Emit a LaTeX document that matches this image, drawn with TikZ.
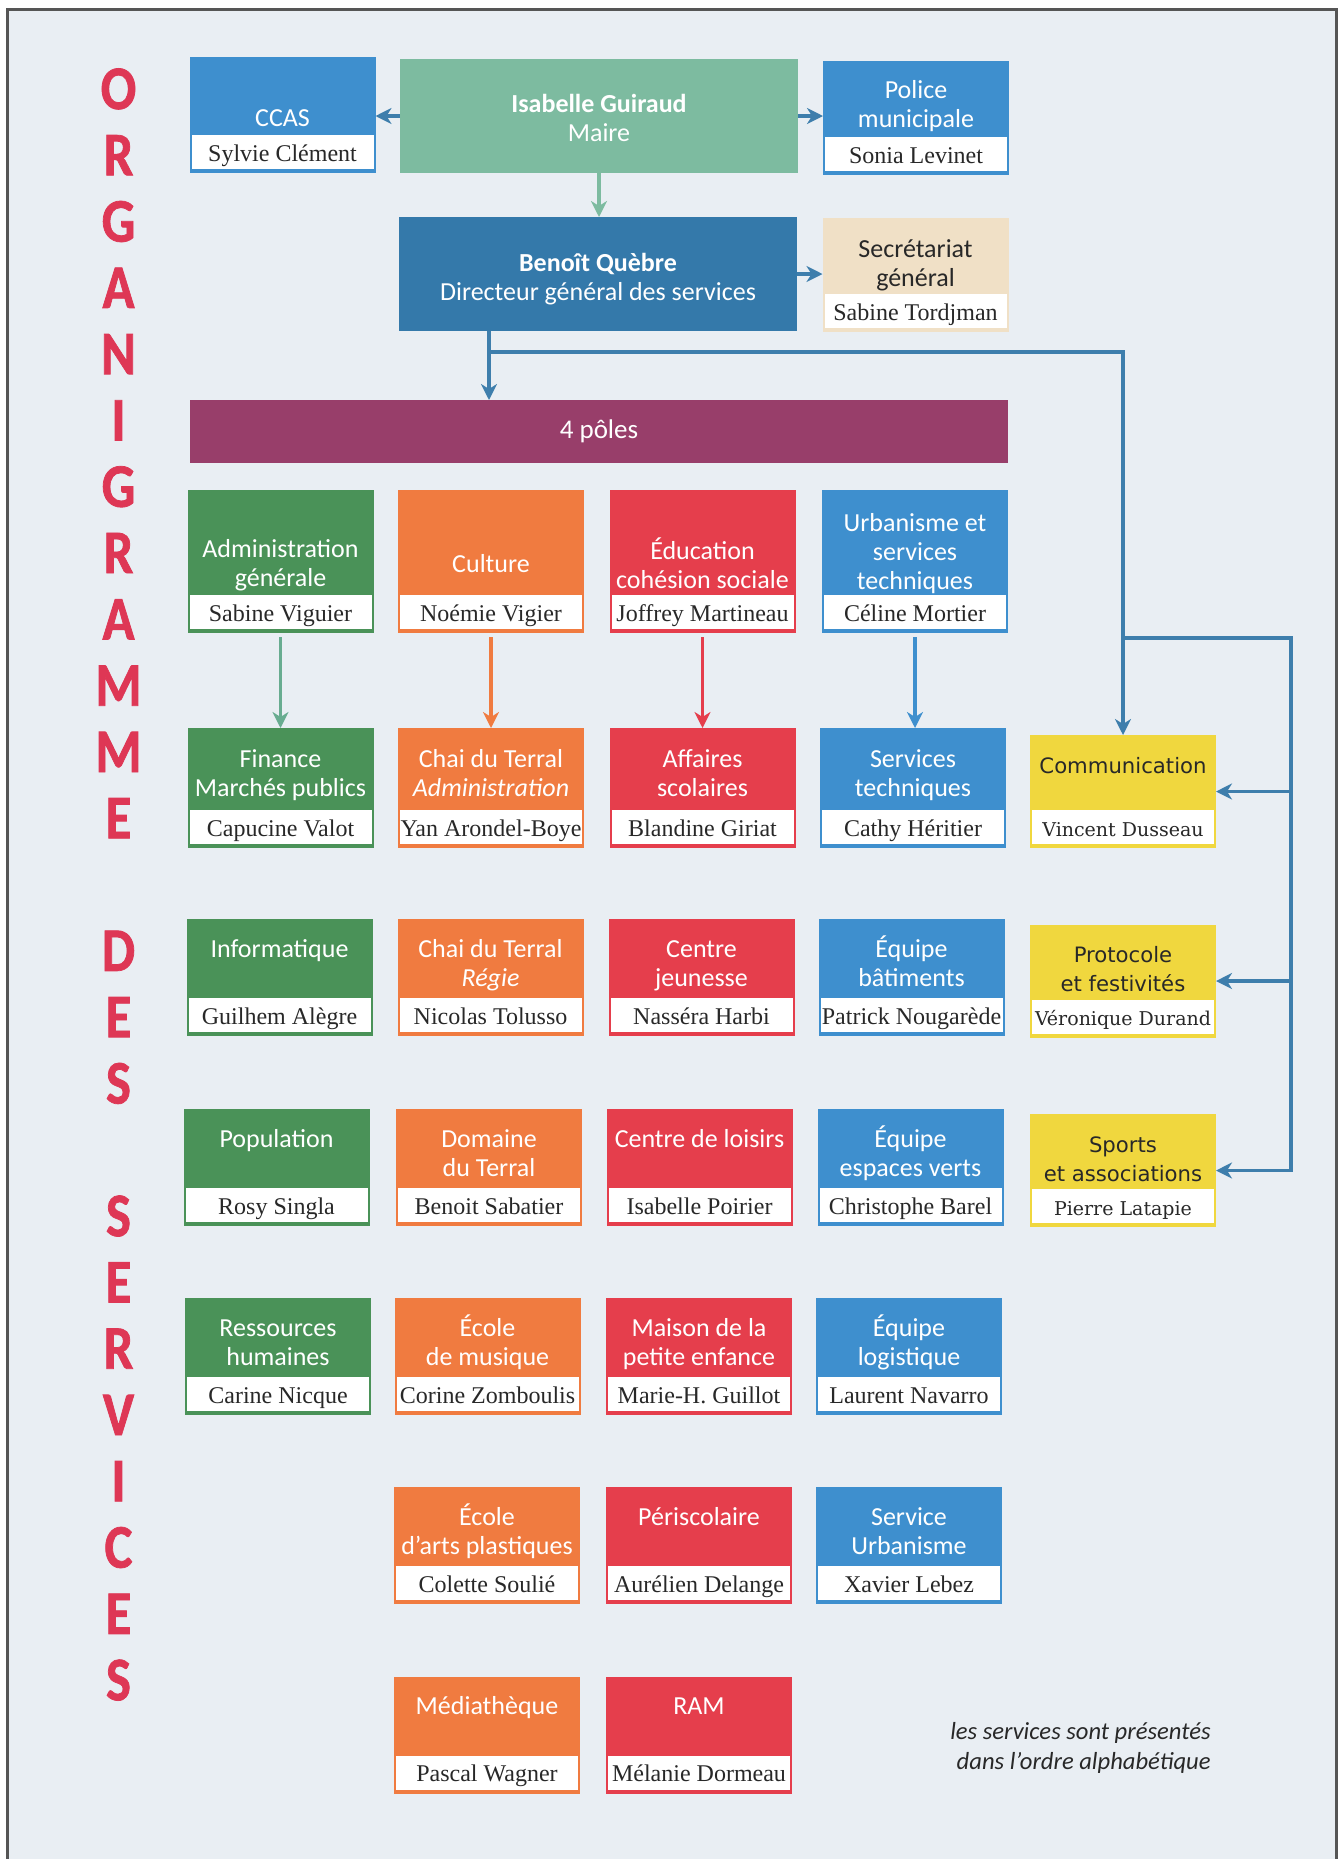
\documentclass[tikz,border=0pt]{standalone}
\usepackage{fontspec}
\setmainfont{Liberation Serif}
\setsansfont{Carlito}
\newfontfamily\yellowfont{DejaVu Sans}
\newfontfamily\yellowname{DejaVu Serif}
\newfontfamily\bigletters[FakeStretch=0.85,FakeBold=1.2]{Carlito}
\usetikzlibrary{arrows.meta,positioning}

\definecolor{bgpaper}{RGB}{233,238,243}
\definecolor{frame}{RGB}{85,85,85}
\definecolor{bleu}{RGB}{62,143,206}
\definecolor{bleufonce}{RGB}{52,121,170}
\definecolor{maire}{RGB}{125,187,160}
\definecolor{beige}{RGB}{240,224,198}
\definecolor{prune}{RGB}{152,62,106}
\definecolor{vert}{RGB}{74,146,88}
\definecolor{orangec}{RGB}{240,123,64}
\definecolor{rouge}{RGB}{229,62,76}
\definecolor{jaune}{RGB}{240,215,62}
\definecolor{trait}{RGB}{62,126,172}
\definecolor{flecheverte}{RGB}{104,172,144}
\definecolor{lettre}{RGB}{222,55,85}
\definecolor{texte}{RGB}{40,40,40}

% fixed height of the first line of a box title
\newcommand\hstrut{\rule{0pt}{12pt}}

\begin{document}
\begin{tikzpicture}[x=0.5pt, y=-0.5pt,
  box/.style={inner sep=0pt, outer sep=0pt, minimum width=93pt},
  hd/.style={font=\sffamily\fontsize{13}{14.5}\selectfont, text=white, align=center, inner sep=0pt, anchor=north},
  who/.style={fill=white, minimum width=91pt, minimum height=17pt, inner sep=0pt, outer sep=0pt, text height=9.4pt, text depth=0pt, font=\rmfamily\fontsize{12}{12}\selectfont, text=texte},
  yhd/.style={hd, font=\yellowfont\fontsize{10.6}{14.5}\selectfont, text=texte},
  ywho/.style={who, font=\yellowname\fontsize{9.5}{9.5}\selectfont, text height=9pt, text depth=0pt},
  conn/.style={draw=trait, line width=1.6pt},
  arr/.style={-{Stealth[length=8pt, width=8pt, inset=2.5pt]}},
  bigletter/.style={font=\bigletters\bfseries\fontsize{31}{31}\selectfont, text=lettre, inner sep=0pt},
  note/.style={font=\sffamily\itshape\fontsize{12.3}{14.8}\selectfont, text=texte, align=right, inner sep=0pt}
]
\useasboundingbox (0,0) rectangle (1343,1859);

%page
\fill[white] (0,0) rectangle (1343,1859);
\fill[bgpaper] (7,9) rectangle (1336,1859);
\draw[frame, line width=1.5pt] (7,1859) -- (7,9) -- (1336,9) -- (1336,1859);

%title down the left side
\foreach \l/\k in {O/0,R/1,G/2,A/3,N/4,I/5,G/6,R/7,A/8,M/9,M/10,E/11,D/13,E/14,S/15,S/17,E/18,R/19,V/20,I/21,C/22,E/23,S/24}
\node[bigletter] (L\k) at (118.5,{88.9+66.3*\k}) {\l};

%top
\node[box, fill=maire, minimum width=199pt, minimum height=57pt] (maire) at (599,116) {};
\node[hd] (maire-t) at ([yshift=-14.5pt]maire.north) {\hstrut\textbf{Isabelle Guiraud}\\Maire};

\node[box, fill=bleu, minimum height=58pt] (ccas) at (282.5,115) {};
\node[who, above=2pt of ccas.south] (ccas-n) {Sylvie Clément};
\node[hd] (ccas-t) at ([yshift=-22.5pt]ccas.north) {\hstrut CCAS};

\node[box, fill=bleu, minimum height=57pt] (police) at (916,118) {};
\node[who, above=2pt of police.south] (police-n) {Sonia Levinet};
\node[hd] (police-t) at ([yshift=-6.5pt]police.north) {\hstrut Police\\municipale};

\node[box, fill=bleufonce, minimum width=199pt, minimum height=57pt] (dgs) at (598,274) {};
\node[hd] (dgs-t) at ([yshift=-15pt]dgs.north) {\hstrut\textbf{Benoît Quèbre}\\Directeur général des services};

\node[box, fill=beige, minimum height=57pt] (secr) at (915.5,275) {};
\node[who, above=2pt of secr.south] (secr-n) {Sabine Tordjman};
\node[hd, text=texte] (secr-t) at ([yshift=-7.5pt]secr.north) {\hstrut Secrétariat\\général};

\node[box, fill=prune, minimum width=409pt, minimum height=31.5pt, font=\sffamily\fontsize{13.5}{14}\selectfont, text=white] (poles) at (599,431.5) {4 pôles};

%the four poles
\node[box, fill=vert, minimum height=71.5pt] (adm) at (280.5,561.5) {};
\node[who, above=2pt of adm.south] (adm-n) {Sabine Viguier};
\node[hd] (adm-t) at ([yshift=-21.5pt]adm.north) {\hstrut Administration\\générale};

\node[box, fill=orangec, minimum height=71.5pt] (cul) at (491,561.5) {};
\node[who, above=2pt of cul.south] (cul-n) {Noémie Vigier};
\node[hd] (cul-t) at ([yshift=-29pt]cul.north) {\hstrut Culture};

\node[box, fill=rouge, minimum height=71.5pt] (edu) at (702.5,561.5) {};
\node[who, above=2pt of edu.south] (edu-n) {Joffrey Martineau};
\node[hd] (edu-t) at ([yshift=-22.5pt]edu.north) {\hstrut Éducation\\cohésion sociale};

\node[box, fill=bleu, minimum height=71.5pt] (urb) at (915,561.5) {};
\node[who, above=2pt of urb.south] (urb-n) {Céline Mortier};
\node[hd] (urb-t) at ([yshift=-8.5pt]urb.north) {\hstrut Urbanisme et\\services\\techniques};

%services
\foreach \id/\x/\col/\hdr/\pers in {
  fin/280.5/vert/{Finance\\Marchés publics}/Capucine Valot,
  chaiadm/491/orangec/{Chai du Terral\\\textit{Administration}}/Yan Arondel-Boye,
  aff/702.5/rouge/{Affaires\\scolaires}/Blandine Giriat,
  st/913/bleu/{Services\\techniques}/Cathy Héritier}
{
  \node[box, fill=\col, minimum height=60pt] (\id) at (\x,788) {};
  \node[who, above=2pt of \id.south] (\id-n) {\pers};
  \node[hd] (\id-t) at ([yshift=-7.5pt]\id.north) {\hstrut\hdr};
}

\foreach \id/\x/\y/\col/\hdr/\pers in {
  info/279.5/977.5/vert/Informatique/Guilhem Alègre,
  regie/490.5/977.5/orangec/{Chai du Terral\\\textit{Régie}}/Nicolas Tolusso,
  cj/701.5/977.5/rouge/{Centre\\jeunesse}/Nasséra Harbi,
  bat/911.5/977.5/bleu/{Équipe\\bâtiments}/Patrick Nougarède,
  pop/276.5/1167.5/vert/Population/Rosy Singla,
  dom/489/1167.5/orangec/{Domaine\\du Terral}/Benoit Sabatier,
  loisirs/699.5/1167.5/rouge/Centre de loisirs/Isabelle Poirier,
  ev/910.5/1167.5/bleu/{Équipe\\espaces verts}/Christophe Barel,
  rh/278/1356.5/vert/{Ressources\\humaines}/Carine Nicque,
  musique/487.5/1356.5/orangec/{École\\de musique}/Corine Zomboulis,
  mpe/699/1356.5/rouge/{Maison de la\\petite enfance}/Marie-H. Guillot,
  logist/909/1356.5/bleu/{Équipe\\logistique}/Laurent Navarro,
  arts/487/1545.5/orangec/{École\\d’arts plastiques}/Colette Soulié,
  peri/699/1545.5/rouge/Périscolaire/Aurélien Delange,
  servurb/909/1545.5/bleu/{Service\\Urbanisme}/Xavier Lebez,
  media/487/1735/orangec/Médiathèque/Pascal Wagner,
  ram/699/1735/rouge/RAM/Mélanie Dormeau}
{
  \node[box, fill=\col, minimum height=58.5pt] (\id) at (\x,\y) {};
  \node[who, above=2pt of \id.south] (\id-n) {\pers};
  \node[hd] (\id-t) at ([yshift=-7pt]\id.north) {\hstrut\hdr};
}

%right column
\foreach \id/\y/\hdr/\pers in {
  com/791.5/Communication/Vincent Dusseau,
  prot/981/{Protocole\\et festivités}/Véronique Durand,
  sports/1170.5/{Sports\\et associations}/Pierre Latapie}
{
  \node[box, fill=jaune, minimum height=56.5pt] (\id) at (1123,\y) {};
  \node[ywho, above=2pt of \id.south] (\id-n) {\pers};
  \node[yhd] (\id-t) at ([yshift=-7pt]\id.north) {\hstrut\hdr};
}

\node[note, anchor=east] (note) at (1211,1748) {les services sont présentés\\dans l’ordre alphabétique};

%connectors
\coordinate (split) at (489,352);
\coordinate (fork) at (1123,638);
\coordinate (rail) at (1291,1170.5);

\draw[conn, arr] (maire.west) -- (maire.west -| ccas.east);
\draw[conn, arr] (maire.east) -- (maire.east -| police.west);
\draw[conn, draw=maire, arr] (maire.south) -- (maire.south |- dgs.north);
\draw[conn, arr] (dgs.east) -- (dgs.east -| secr.west);
\draw[conn, arr] (split |- dgs.south) -- (split |- poles.north);
\draw[conn, arr] (split) -| (com.north);
\draw[conn, arr] (fork) -| (rail) -- (sports.east);
\draw[conn, arr] (rail |- com.east) -- (com.east);
\draw[conn, arr] (rail |- prot.east) -- (prot.east);

\foreach \a/\b/\col in {adm/fin/flecheverte, cul/chaiadm/orangec, edu/aff/rouge, urb/st/bleu}
\draw[line width=1.6pt, draw=\col, arr, shorten <=2pt] (\a.south) -- (\a.south |- \b.north);

\end{tikzpicture}
\end{document}
